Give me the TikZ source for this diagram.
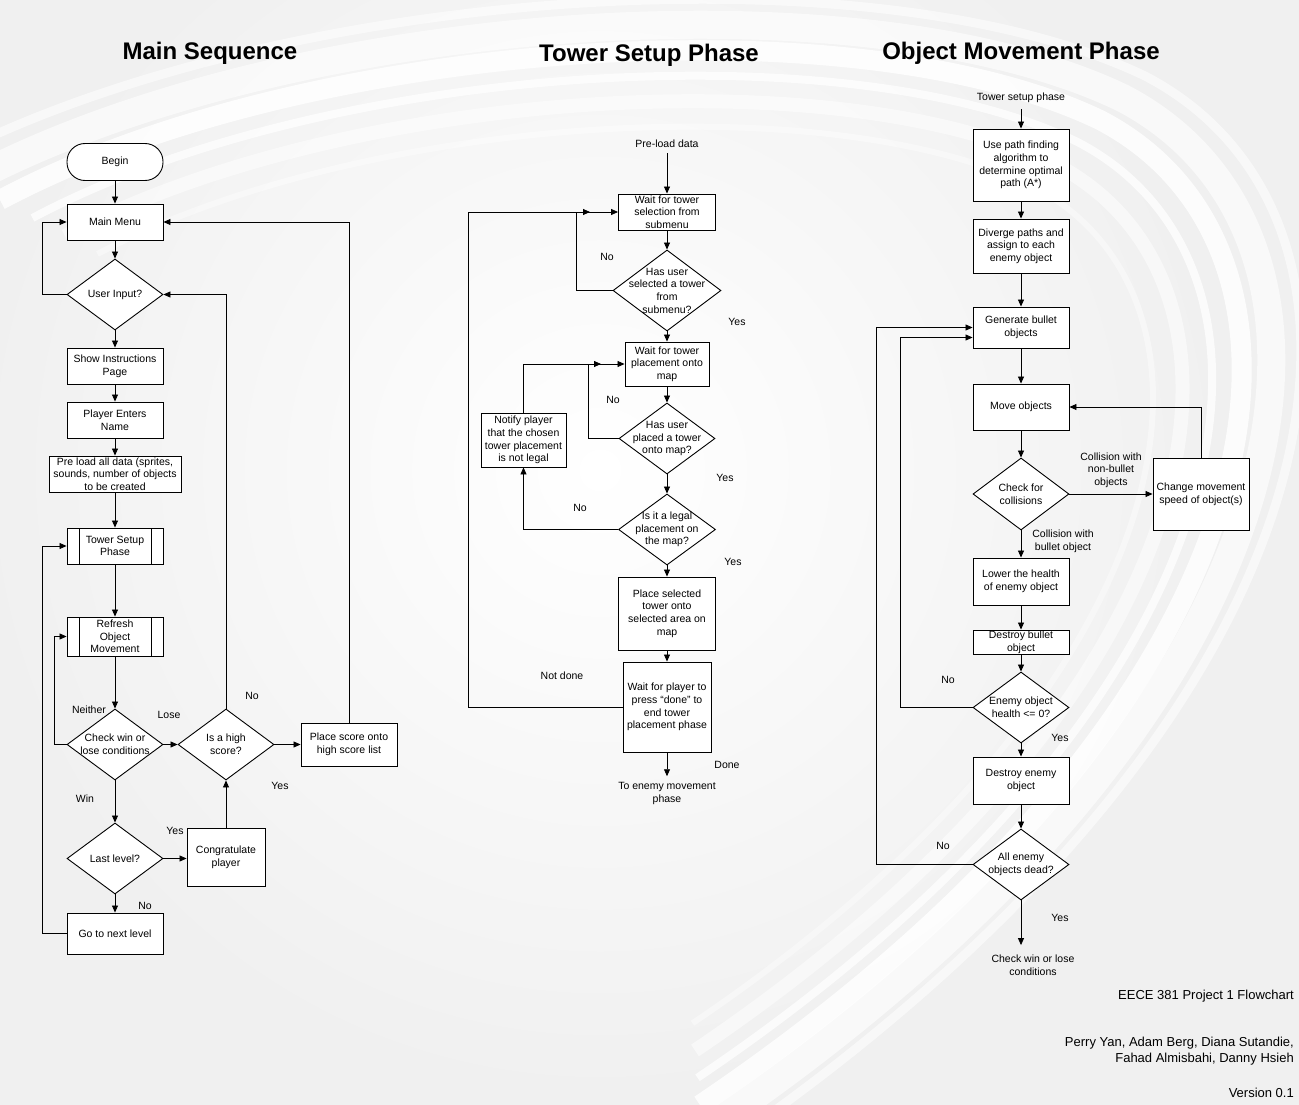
\documentclass[tikz,border=0pt]{standalone}
\usepackage{fontspec}
\setmainfont{Liberation Sans}
\usetikzlibrary{shapes.geometric,arrows.meta,calc}

\newcommand\fcfont{\fontsize{10.5}{12.7}\selectfont}
\newcommand\fctitle{\bfseries\fontsize{24}{28}\selectfont}
\newcommand\fcfoot{\fontsize{13}{16}\selectfont}

\tikzset{
  procbox/.style={rectangle, draw, fill=white, line width=0.9pt, align=center, inner sep=0pt, minimum width=96pt, minimum height=36pt},
  subproc/.style={procbox, path picture={
      \draw[line width=0.9pt] ([xshift=12pt]path picture bounding box.north west) -- ([xshift=12pt]path picture bounding box.south west)
        ([xshift=-12pt]path picture bounding box.north east) -- ([xshift=-12pt]path picture bounding box.south east);}},
  termbox/.style={procbox, rounded corners=18pt, minimum height=37pt},
  decision/.style={diamond, draw, fill=white, line width=0.9pt, inner sep=0pt, minimum width=96pt, minimum height=71pt},
  flow/.style={draw, line width=0.8pt, -{Triangle[length=7pt,width=6pt]}},
  note/.style={align=center, inner sep=1pt},
}

\begin{document}
\begin{tikzpicture}[x=1pt,y=1pt,yscale=-1,font=\fcfont]
\useasboundingbox (0,0) rectangle (1299,1105);

%% background with swooshes
\begin{scope}
\clip (0,0) rectangle (1299,1105);
\fill[gray!12] (0,0) rectangle (1299,1105);
\shade[inner color=white, outer color=gray!12] (600,470) circle (640);
\foreach \s/\w/\o in {1/20/0.85, 0.95/8/0.75, 1.05/28/0.6, 0.9/14/0.5, 1.1/9/0.55, 0.85/6/0.4}{
  \begin{scope}[shift={(650,560)}, scale=\s, shift={(-650,-560)}]
  \draw[white, line width=\w, opacity=\o] (0,200) .. controls (300,40) and (850,0) .. (1100,120) .. controls (1350,250) and (1300,700) .. (700,1105);
  \end{scope}
}
\end{scope}

%% titles
\node[note, font=\fctitle] (t1) at (210,53) {Main Sequence};
\node[note, font=\fctitle] (t2) at (649,55) {Tower Setup Phase};
\node[note, font=\fctitle] (t3) at (1021,53) {Object Movement Phase};

%% main sequence
\node[termbox] (begin) at (115,162) {Begin};
\node[procbox] (mm) at (115,222) {Main Menu};
\node[decision, label={[note]center:{User Input?}}] (ui) at (115,294.5) {};
\node[procbox] (si) at (115,366) {Show Instructions\\Page};
\node[procbox] (pe) at (115,420) {Player Enters\\Name};
\node[procbox, minimum width=132pt] (pl) at (115,474) {Pre load all data (sprites,\\sounds, number of objects\\to be created};
\node[subproc] (ts) at (115,546) {Tower Setup\\Phase};
\node[subproc, minimum height=39pt] (rf) at (115,636.5) {Refresh\\Object\\Movement};
\node[decision, label={[note]center:{Check win or\\lose conditions}}] (cw) at (115,744.5) {};
\node[decision, label={[note]center:{Is a high\\score?}}] (hs) at (226,744.5) {};
\node[procbox, minimum height=43pt] (ps) at (349,744.5) {Place score onto\\high score list};
\node[decision, label={[note]center:{Last level?}}] (ll) at (115,858.5) {};
\node[procbox, minimum width=78pt, minimum height=58pt] (cg) at (226,857.5) {Congratulate\\player};
\node[procbox, minimum height=41pt] (gn) at (115,933.5) {Go to next level};

\draw[flow] (begin) -- (mm);
\draw[flow] (mm) -- (ui);
\draw[flow] (ui.west) -- ++(-24,0) |- (mm.west);
\draw[flow] (ui) -- (si);
\draw[flow] (si) -- (pe);
\draw[flow] (pe) -- (pl);
\draw[flow] (pl) -- (ts);
\draw[flow] (ts) -- (rf);
\draw[flow] (rf) -- (cw);
\draw[flow] (cw.west) -- ++(-12,0) |- (rf.west);
\draw[flow] (cw) -- (hs);
\draw[flow] (hs) -- (ps);
\draw[flow] (hs.north) |- (ui.east);
\draw[flow] (ps.north) |- (mm.east);
\draw[flow] (cw) -- (ll);
\draw[flow] (ll.east) -- (ll.east -| cg.west);
\draw[flow] (cg) -- (hs);
\draw[flow] (ll) -- (gn);
\draw[flow] (gn.west) -- ++(-24,0) |- (ts.west);

\node[note] (neither) at (89,710) {Neither};
\node[note] (lose) at (169,715) {Lose};
\node[note] (hsno) at (252,696) {No};
\node[note] (hsyes) at (280,786) {Yes};
\node[note] (win) at (85,799) {Win};
\node[note] (llyes) at (175,831) {Yes};
\node[note] (llno) at (145,906) {No};

%% tower setup phase
\node[note] (pld) at (667,144) {Pre-load data};
\node[procbox, minimum width=97pt] (w1) at (667,212) {Wait for tower\\selection from\\submenu};
\node[decision, minimum width=108pt, minimum height=81pt, label={[note]center:{Has user\\selected a tower\\from\\submenu?}}] (q1) at (667,290.5) {};
\node[procbox, minimum width=84pt, minimum height=44pt] (w2) at (667,364) {Wait for tower\\placement onto\\map};
\node[decision, label={[note]center:{Has user\\placed a tower\\onto map?}}] (q2) at (667,438.5) {};
\node[decision, minimum width=97pt, label={[note]center:{Is it a legal\\placement on\\the map?}}] (q3) at (667,529.5) {};
\node[procbox, minimum width=97pt, minimum height=73pt] (pt) at (667,613.5) {Place selected\\tower onto\\selected area on\\map};
\node[procbox, minimum width=88pt, minimum height=90pt] (wp) at (667,707) {Wait for player to\\press “done” to\\end tower\\placement phase};
\node[procbox, minimum width=85pt, minimum height=54pt] (nt) at (523.5,440) {Notify player\\that the chosen\\tower placement\\is not legal};
\node[note] (tem) at (667,793.5) {To enemy movement\\phase};
\coordinate (j1) at (590,212);
\coordinate (j2) at (601,364);

\draw[flow, shorten <=4pt] (pld) -- (w1);
\draw[flow] (w1) -- (q1);
\draw[flow] (q1.west) -- ++(-36,0) |- (w1.west);
\draw[flow] (q1) -- (w2);
\draw[flow] (w2) -- (q2);
\draw[flow] (q2.west) -- ++(-30,0) |- (w2.west);
\draw[flow] (q2) -- (q3);
\draw[flow] (q3.west) -| (nt.south);
\draw[flow] (nt.north) |- (j2);
\draw[flow] (q3) -- (pt);
\draw[flow] (pt) -- (wp);
\draw[flow] (wp.west) -- ++(-154,0) |- (j1);
\draw[flow, shorten >=5pt] (wp) -- (tem);

\node[note] (q1no) at (607,257) {No};
\node[note] (q1yes) at (737,322) {Yes};
\node[note] (q2no) at (613,400) {No};
\node[note] (q2yes) at (725,478) {Yes};
\node[note] (q3no) at (580,508) {No};
\node[note] (q3yes) at (733,562) {Yes};
\node[note] (notdone) at (562,676) {Not done};
\node[note] (done) at (727,765) {Done};

%% object movement phase
\node[note] (tsp) at (1021,98) {Tower setup phase};
\node[procbox, minimum height=72pt] (up) at (1021,165) {Use path finding\\algorithm to\\determine optimal\\path (A*)};
\node[procbox, minimum height=54pt] (dp) at (1021,246) {Diverge paths and\\assign to each\\enemy object};
\node[procbox, minimum height=41pt] (gb) at (1021,327.5) {Generate bullet\\objects};
\node[procbox, minimum height=46pt] (mo) at (1021,407) {Move objects};
\node[decision, minimum height=72pt, label={[note]center:{Check for\\collisions}}] (cc) at (1021,494) {};
\node[procbox, minimum height=72pt] (cs) at (1201,494) {Change movement\\speed of object(s)};
\node[procbox, minimum height=47pt] (lh) at (1021,581.5) {Lower the health\\of enemy object};
\node[procbox, minimum height=24pt] (db) at (1021,642) {Destroy bullet\\object};
\node[decision, label={[note]center:{Enemy object\\health <= 0?}}] (eh) at (1021,707.5) {};
\node[procbox, minimum height=47pt] (de) at (1021,780.5) {Destroy enemy\\object};
\node[decision, label={[note]center:{All enemy\\objects dead?}}] (ad) at (1021,864.5) {};
\node[note] (cwl) at (1033,965.5) {Check win or lose\\conditions};

\draw[flow, shorten <=5pt] (tsp) -- (up);
\draw[flow] (up) -- (dp);
\draw[flow] (dp) -- (gb);
\draw[flow] (gb) -- (mo);
\draw[flow] (mo) -- (cc);
\draw[flow] (cc) -- (cs);
\draw[flow] (cs.north) |- (mo.east);
\draw[flow] (cc) -- (lh);
\draw[flow] (lh) -- (db);
\draw[flow] (db) -- (eh);
\draw[flow] (eh.west) -- ++(-72,0) |- ($(gb.west)+(0,10)$);
\draw[flow] (eh) -- (de);
\draw[flow] (de) -- (ad);
\draw[flow] (ad.west) -- ++(-96,0) |- (gb.west);
\draw[flow, shorten >=9pt] (ad.south) -- (ad.south |- cwl.north);

\node[note] (nonbul) at (1111,470) {Collision with\\non-bullet\\objects};
\node[note] (bul) at (1063,541) {Collision with\\bullet object};
\node[note] (ehno) at (948,680) {No};
\node[note] (ehyes) at (1060,738) {Yes};
\node[note] (adno) at (943,846) {No};
\node[note] (adyes) at (1060,918) {Yes};

%% footer
\node[anchor=east, inner sep=0pt, font=\fcfoot] (ft1) at (1294,996) {EECE 381 Project 1 Flowchart};
\node[anchor=east, align=right, inner sep=0pt, font=\fcfoot] (ft2) at (1294,1051) {Perry Yan, Adam Berg, Diana Sutandie,\\Fahad Almisbahi, Danny Hsieh};
\node[anchor=east, inner sep=0pt, font=\fcfoot] (ft3) at (1294,1093) {Version 0.1};
\end{tikzpicture}
\end{document}
